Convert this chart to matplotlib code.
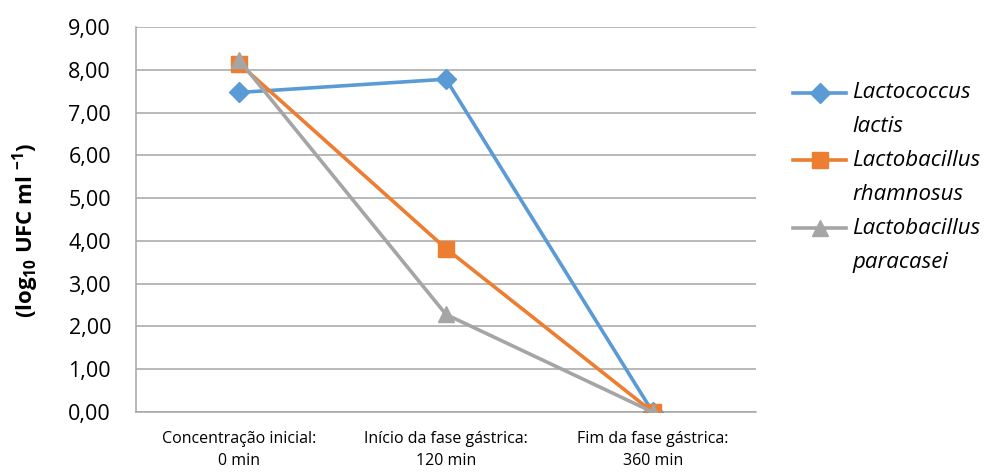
import matplotlib
matplotlib.use("Agg")
import matplotlib.pyplot as plt
from matplotlib.lines import Line2D

# Dados
categorias = ["Concentração inicial:\n0 min", "Início da fase gástrica:\n120 min", "Fim da fase gástrica:\n360 min"]
lactis = [7.47, 7.78, 0.0]
rhamnosus = [8.14, 3.82, 0.0]
paracasei = [8.22, 2.28, 0.0]
nomes = [("Lactococcus", "lactis"), ("Lactobacillus", "rhamnosus"), ("Lactobacillus", "paracasei")]
cores = ['#5B9BD5', '#ED7D31', '#A5A5A5']
marcadores = [('D', 10), ('s', 12), ('^', 12)]
yticks = [0, 1, 2, 3, 4, 5, 6, 7, 8, 9]

plt.rcParams['font.family'] = ['Open Sans', 'DejaVu Sans']
plt.rcParams['mathtext.fontset'] = 'custom'
plt.rcParams['mathtext.rm'] = 'Open Sans'
plt.rcParams['mathtext.bf'] = 'Open Sans:bold'

W, H = 992, 473
fig = plt.figure(figsize=(W/100, H/100), dpi=100)
ax = fig.add_axes([136/W, 61/H, 620/W, 385/H])

x = range(len(categorias))
for i, serie in enumerate([lactis, rhamnosus, paracasei]):
    m, ms = marcadores[i]
    ax.plot(x, serie, color=cores[i], lw=2.6, marker=m, ms=ms, zorder=3 + i)

ax.set_xlim(-0.5, 2.5)
ax.set_ylim(0, 9)
ax.set_yticks(yticks)
ax.set_yticklabels([("%.2f" % v).replace('.', ',') for v in yticks], fontsize=15.5)
ax.set_xticks(list(x))
ax.set_xticklabels(categorias, fontsize=11.5, linespacing=1.5)
ax.tick_params(axis='y', length=0, pad=18)
ax.tick_params(axis='x', length=0, pad=14)
ax.yaxis.grid(True, color='#A6A6A6', lw=1.1)
ax.set_axisbelow(True)
for s in ['top', 'right']:
    ax.spines[s].set_visible(False)
for s in ['left', 'bottom']:
    ax.spines[s].set_color('#A6A6A6')
    ax.spines[s].set_linewidth(1.1)

fig.text(26/W, 1 - 230/H, r'(log$_{\mathbf{10}}$ UFC ml $^{\mathbf{-1}}$)', fontsize=16,
         fontweight='bold', rotation=90, ha='center', va='center')

# Legenda desenhada a mao (primeira linha do texto alinhada com o simbolo)
for i in range(3):
    y0 = 93 + 67.5 * i
    m, ms = marcadores[i]
    fig.add_artist(Line2D([793/W, 846/W], [1 - y0/H, 1 - y0/H], color=cores[i], lw=2.6,
                          transform=fig.transFigure))
    fig.add_artist(Line2D([819.5/W], [1 - y0/H], color=cores[i], marker=m, ms=ms,
                          transform=fig.transFigure))
    fig.text(852/W, 1 - y0/H, nomes[i][0], fontsize=16, style='italic', va='center')
    fig.text(852/W, 1 - (y0 + 34)/H, nomes[i][1], fontsize=16, style='italic', va='center')

fig.savefig("out.png", dpi=100)
